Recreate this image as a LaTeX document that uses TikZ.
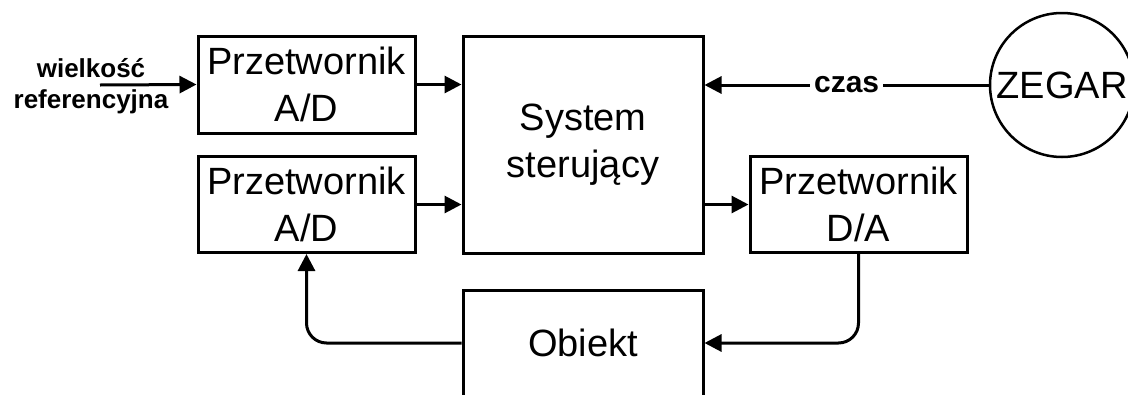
\documentclass[tikz,border=0pt]{standalone}
\usepackage{fontspec}
\setmainfont{Liberation Sans}
\usetikzlibrary{arrows.meta, positioning}

\begin{document}
\begin{tikzpicture}[x=1pt, y=-1pt,
  blok/.style={draw, line width=3pt, inner sep=0pt, align=center, font=\fontsize{38}{47}\selectfont},
  opis/.style={font=\bfseries\fontsize{26}{31}\selectfont, align=center, inner sep=0pt},
  etykieta/.style={fill=white, inner sep=4pt, font=\bfseries\fontsize{30}{36}\selectfont},
  strzalka/.style={-{Triangle[length=17pt, width=17pt]}, line width=3pt}]
  \path[use as bounding box, clip] (0,0) rectangle (1128,394);

  \node[blok, minimum width=217pt, minimum height=97pt] (adgora) at (306.5,84.5) {Przetwornik\\A/D};
  \node[blok, minimum width=217pt, minimum height=96pt] (addol) at (306.5,204.5) {Przetwornik\\A/D};
  \node[blok, minimum width=240pt, minimum height=217pt] (system) at (583,144.5) {System\\sterujący};
  \node[blok, minimum width=217pt, minimum height=96pt] (da) at (858.5,204.5) {Przetwornik\\D/A};
  \node[blok, minimum width=240pt, minimum height=106pt] (obiekt) at (583,343) {Obiekt};
  \node[blok, circle, line width=2.5pt, minimum size=144pt] (zegar) at (1062,85) {ZEGAR};
  \node[opis] (wielkosc) at (91,86) {wielkość\\referencyjna};
  \coordinate (wejscie) at (100,85);

  \draw[strzalka] (wejscie) -- (adgora.west);
  \draw[strzalka] (adgora.east) -- (adgora.east -| system.west);
  \draw[strzalka] (addol.east) -- (addol.east -| system.west);
  \draw[strzalka] (system.east |- da.west) -- (da.west);
  \draw[strzalka] (zegar.west) -- node[etykieta] (czas) {czas} (zegar.west -| system.east);
  \draw[strzalka, rounded corners=20pt] (da.south) |- (obiekt.east);
  \draw[strzalka, rounded corners=20pt] (obiekt.west) -| (addol.south);
\end{tikzpicture}
\end{document}
